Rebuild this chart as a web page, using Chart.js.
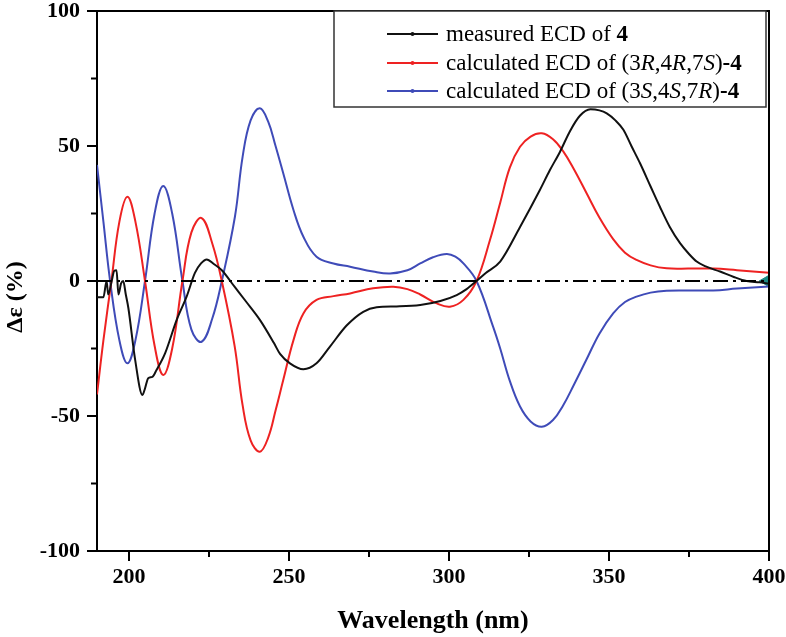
<!DOCTYPE html>
<html>
<head>
<meta charset="utf-8">
<script src="https://cdn.jsdelivr.net/npm/chart.js@4.4.1/dist/chart.umd.min.js"></script>
<style>
  html, body { margin: 0; padding: 0; background: #fff; }
  #wrap { width: 786px; height: 637px; position: relative; }
</style>
</head>
<body>
<div id="wrap"><canvas id="c" width="786" height="637"></canvas></div>
<script>
// ---- data ----
const wavelengthMeasured = [190,192,193,193.5,194.6,195.4,196.1,196.7,197.5,198.2,199,199.8,201.9,204.2,205,206,207.3,208.6,211.3,214.9,218,220.6,222.5,224.3,226.5,229,233.1,236.5,240.9,245.3,247.2,250.3,254.5,258.6,262.8,268,273.2,277.4,283.6,291,297.3,302.4,305.5,308.6,311.5,316,322.2,328.4,331.5,334.7,337.8,340.9,344.2,347,349.3,352,354.5,357,359.7,363,365.9,369,372.2,375,377.4,380,384.7,389,393,397,400];
const measuredECD = [-6,-6,0,-5,0,3.8,4,-5,-1,0,-5,-10,-29,-42.2,-39.8,-36,-35.5,-33,-26.7,-14.4,-5.8,3,6.5,8,6.3,4,-2.3,-7.5,-14.4,-23,-27,-30.5,-32.7,-30.5,-24.3,-16.5,-11.4,-9.7,-9.4,-8.9,-7.4,-5.2,-3,0,3,7.2,20,33.7,41,47.9,55.5,61.2,63.6,63.2,62.1,59.5,56,50,43.6,35,27.5,20,14,10,7.2,5.5,3.5,1.5,0,-0.5,-1];

const wavelengthCalcRRS = [190,192,194.5,197,199.5,202,205,208,210.7,213.5,216.7,219.5,222.7,226,229,233,235.5,238,240.9,243.5,245.8,248.2,251.4,254.5,258.6,263.9,269.1,276.3,282.6,287,291,296.2,300.3,304.5,308.6,312.8,316,319,322.2,325.5,329,332.5,335.7,339,343,347,351.3,355,358.6,363,368,375,382.6,390,400];
const calcRRS = [-42,-22,0,22,31.2,22,0,-24,-34.8,-25,0,18,23.3,14,0,-24,-46,-59,-63.2,-58,-48,-36.7,-21.9,-12,-7,-5.6,-4.6,-2.7,-2.1,-3,-5,-8.3,-9.5,-7,0,15.2,29,42,49.7,53.5,54.7,52.5,48,41.5,32.5,23.5,15.5,10.5,7.8,5.8,4.7,4.6,4.6,4,3.1];

const wavelengthCalcSSR = [190,192,194.1,197,199.5,202,205,208,210.7,213.5,216.7,219.5,222.7,226,229,233.1,235.5,238,240.9,243.5,245.8,248.2,251.4,254.5,258.6,263.9,269.1,276.3,281.6,287,291,295,299.3,302,304.5,308.6,313.8,316,319,322.2,325.5,329,332.5,335.7,339,343,347,351.3,355,358.6,363,368,375,382.6,390,400];
const calcSSR = [43,22,0,-22,-30.5,-22,0,25,35.2,25,0,-18,-22.5,-14,0,23.8,46,59.5,64,59,50,39.9,26.3,16.4,9,6.5,5.3,3.5,2.8,4,6.5,8.8,10,9,6.5,0,-17,-25,-37,-46.5,-52,-54,-51.5,-46,-38.5,-29,-19.5,-12,-7.8,-5.8,-4.3,-3.6,-3.5,-3.5,-2.8,-2];

const zeroLineX = [190, 400];
const zeroLineY = [0, 0];
const endMarkerX = [398.8];
const endMarkerY = [0];

const xTickValues = [200,225,250,275,300,325,350,375,400];
const yTickValues = [-100,-75,-50,-25,0,25,50,75,100];

const legendLabels = [
  [{t:'measured ECD of '},{t:'4',s:'bold'}],
  [{t:'calculated ECD of (3'},{t:'R',s:'italic'},{t:',4'},{t:'R',s:'italic'},{t:',7'},{t:'S',s:'italic'},{t:')'},{t:'-4',s:'bold'}],
  [{t:'calculated ECD of (3'},{t:'S',s:'italic'},{t:',4'},{t:'S',s:'italic'},{t:',7'},{t:'R',s:'italic'},{t:')'},{t:'-4',s:'bold'}]
];
const yTitle = 'Δε (%)';
const xTitle = 'Wavelength (nm)';

// ---- build ----
const pts = (xs, ys) => xs.map((x, i) => ({x, y: ys[i]}));
const SERIF = "'Liberation Serif','Times New Roman',serif";
const colBlack = '#111111', colRed = '#ee2222', colBlue = '#3f4bb8';

const legendPlugin = {
  id: 'customLegendFrame',
  afterDatasetsDraw(chart) {
    const ctx = chart.ctx, a = chart.chartArea;
    ctx.save();
    ctx.strokeStyle = '#000'; ctx.lineWidth = 2;
    ctx.beginPath();
    ctx.moveTo(a.left - 1, a.top); ctx.lineTo(a.right, a.top); ctx.lineTo(a.right, a.bottom + 1);
    ctx.stroke();
    const xs = chart.scales.x, ys = chart.scales.y;
    xTickValues.filter(v => v % 50 !== 0).forEach(v => {
      const px = xs.getPixelForValue(v);
      ctx.beginPath(); ctx.moveTo(px, a.bottom); ctx.lineTo(px, a.bottom + 6); ctx.stroke();
    });
    yTickValues.filter(v => v % 50 !== 0).forEach(v => {
      const py = ys.getPixelForValue(v);
      ctx.beginPath(); ctx.moveTo(a.left, py); ctx.lineTo(a.left - 6, py); ctx.stroke();
    });
    // legend box
    const bx = 334, by = a.top, bw = a.right - 3 - bx, bh = 96;
    ctx.fillStyle = '#fff';
    ctx.fillRect(bx, by, bw, bh);
    ctx.strokeStyle = '#333'; ctx.lineWidth = 1.5;
    ctx.strokeRect(bx, by, bw, bh);
    const dsIdx = [1, 2, 3];
    const rowY = [34, 63, 91];
    legendLabels.forEach((segs, i) => {
      const ds = chart.data.datasets[dsIdx[i]];
      const y = rowY[i];
      ctx.strokeStyle = ds.borderColor; ctx.lineWidth = 2;
      ctx.beginPath(); ctx.moveTo(387, y); ctx.lineTo(438, y); ctx.stroke();
      ctx.fillStyle = ds.borderColor;
      ctx.beginPath(); ctx.arc(412.5, y, 2, 0, Math.PI * 2); ctx.fill();
      let x = 446;
      ctx.fillStyle = '#000'; ctx.textBaseline = 'middle'; ctx.textAlign = 'left';
      segs.forEach(sg => {
        const w = sg.s === 'bold' ? 'bold ' : '';
        const it = sg.s === 'italic' ? 'italic ' : '';
        ctx.font = it + w + '23px ' + SERIF;
        ctx.fillText(sg.t, x, y + 1);
        x += ctx.measureText(sg.t).width;
      });
    });
    // y title
    ctx.save();
    ctx.translate(16, 297);
    ctx.rotate(-Math.PI / 2);
    ctx.font = 'bold 24px ' + SERIF;
    ctx.textAlign = 'center'; ctx.textBaseline = 'middle';
    ctx.fillStyle = '#000';
    ctx.fillText(yTitle, 0, 0);
    ctx.restore();
    ctx.restore();
  }
};

new Chart(document.getElementById('c'), {
  type: 'line',
  data: {
    datasets: [
      { label: 'zero', data: pts(zeroLineX, zeroLineY), borderColor: '#000', borderWidth: 2,
        borderDash: [15, 5, 3, 5], pointRadius: 0, tension: 0 },
      { label: 'measured ECD of 4', data: pts(wavelengthMeasured, measuredECD), borderColor: colBlack,
        borderWidth: 2, pointRadius: 0, cubicInterpolationMode: 'monotone' },
      { label: 'calculated ECD of (3R,4R,7S)-4', data: pts(wavelengthCalcRRS, calcRRS), borderColor: colRed,
        borderWidth: 2, pointRadius: 0, tension: 0.4 },
      { label: 'calculated ECD of (3S,4S,7R)-4', data: pts(wavelengthCalcSSR, calcSSR), borderColor: colBlue,
        borderWidth: 2, pointRadius: 0, tension: 0.4 },
      { label: 'end', data: pts(endMarkerX, endMarkerY), showLine: false, pointStyle: 'triangle',
        rotation: -90, pointRadius: 6, backgroundColor: '#1b8a84', borderColor: '#1b8a84', clip: false }
    ]
  },
  options: {
    responsive: false,
    animation: false,
    devicePixelRatio: 1,
    layout: { padding: { top: 11, right: 17, left: 0, bottom: 0 } },
    plugins: { legend: { display: false }, tooltip: { enabled: false } },
    scales: {
      x: {
        type: 'linear', min: 190, max: 400,
        afterBuildTicks: s => { s.ticks = xTickValues.map(v => ({value: v})); },
        afterFit: s => { s.height = 86; s.paddingLeft = 0; s.paddingRight = 0; },
        ticks: { callback: v => (v % 50 === 0 ? String(v) : ''), font: { family: SERIF, size: 22, weight: 'bold' },
                 color: '#000', padding: 3, maxRotation: 0, autoSkip: false },
        grid: { drawOnChartArea: false, drawTicks: true, tickLength: 10, lineWidth: 2,
                color: c => (c.tick && c.tick.value % 50 === 0 ? '#000' : 'rgba(0,0,0,0)') },
        border: { display: true, color: '#000', width: 2 },
        title: { display: true, text: xTitle, font: { family: SERIF, size: 26, weight: 'bold' }, color: '#000',
                 padding: { top: 0, bottom: 0 } }
      },
      y: {
        type: 'linear', min: -100, max: 100,
        afterBuildTicks: s => { s.ticks = yTickValues.map(v => ({value: v})); },
        afterFit: s => { s.width = 97; s.paddingTop = 0; s.paddingBottom = 0; },
        ticks: { callback: v => (v % 50 === 0 ? String(v) : ''), font: { family: SERIF, size: 22, weight: 'bold' },
                 color: '#000', padding: 7, autoSkip: false },
        grid: { drawOnChartArea: false, drawTicks: true, tickLength: 10, lineWidth: 2,
                color: c => (c.tick && c.tick.value % 50 === 0 ? '#000' : 'rgba(0,0,0,0)') },
        border: { display: true, color: '#000', width: 2 }
      }
    }
  },
  plugins: [legendPlugin]
});
</script>
</body>
</html>
